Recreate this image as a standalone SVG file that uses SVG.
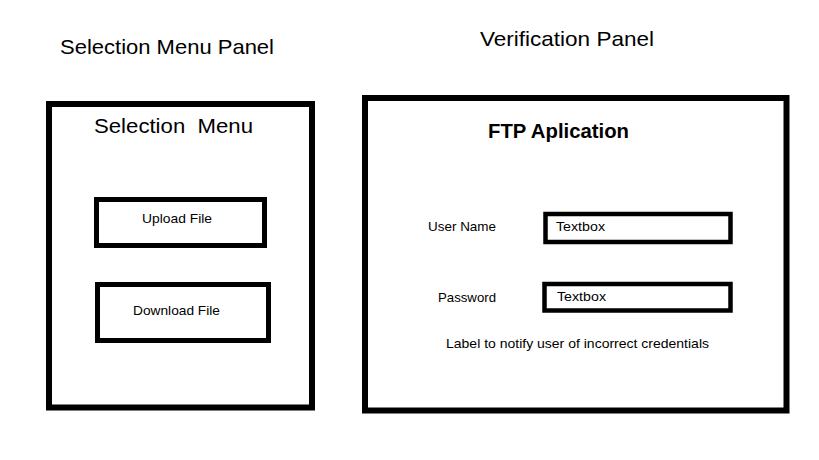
<svg xmlns="http://www.w3.org/2000/svg" width="819" height="460" viewBox="0 0 819 460">
<style>
text{font-family:"Liberation Sans",Arial,sans-serif;fill:#000}
.box{fill:none;stroke:#000}
.t{font-size:13.5px}
.h{font-size:21px}
</style>
<rect x="0" y="0" width="819" height="460" fill="#fff"/>
<text class="h" x="60" y="54" textLength="214" lengthAdjust="spacingAndGlyphs">Selection Menu Panel</text>
<text class="h" x="480" y="46" textLength="174" lengthAdjust="spacingAndGlyphs">Verification Panel</text>
<g id="selection-menu">
<rect class="box" x="49" y="104" width="263" height="303.5" stroke-width="6"/>
<text class="h" x="94" y="133" textLength="159" lengthAdjust="spacingAndGlyphs" xml:space="preserve">Selection  Menu</text>
</g>
<g id="upload-file">
<rect class="box" x="96.5" y="199.5" width="168" height="46" stroke-width="5"/>
<text class="t" x="142" y="223" textLength="70" lengthAdjust="spacingAndGlyphs">Upload File</text>
</g>
<g id="download-file">
<rect class="box" x="97.5" y="284.5" width="171" height="56" stroke-width="5"/>
<text class="t" x="133" y="315" textLength="87" lengthAdjust="spacingAndGlyphs">Download File</text>
</g>
<g id="verification">
<rect class="box" x="365" y="98" width="421.5" height="312.5" stroke-width="6"/>
<text x="488" y="138" font-size="20" font-weight="bold" textLength="141" lengthAdjust="spacingAndGlyphs">FTP Aplication</text>
<text class="t" x="428" y="231" textLength="68" lengthAdjust="spacingAndGlyphs">User Name</text>
<text class="t" x="438" y="302" textLength="58" lengthAdjust="spacingAndGlyphs">Password</text>
<text class="t" x="446" y="348" textLength="263" lengthAdjust="spacingAndGlyphs">Label to notify user of incorrect credentials</text>
</g>
<g id="username-textbox">
<rect class="box" x="545.5" y="214" width="185" height="28" stroke-width="4.5"/>
<text class="t" x="556" y="231" textLength="49" lengthAdjust="spacingAndGlyphs">Textbox</text>
</g>
<g id="password-textbox">
<rect class="box" x="544.5" y="284" width="186" height="26.5" stroke-width="4.5"/>
<text class="t" x="557" y="301" textLength="49" lengthAdjust="spacingAndGlyphs">Textbox</text>
</g>
<g id="connectors"/>
</svg>
